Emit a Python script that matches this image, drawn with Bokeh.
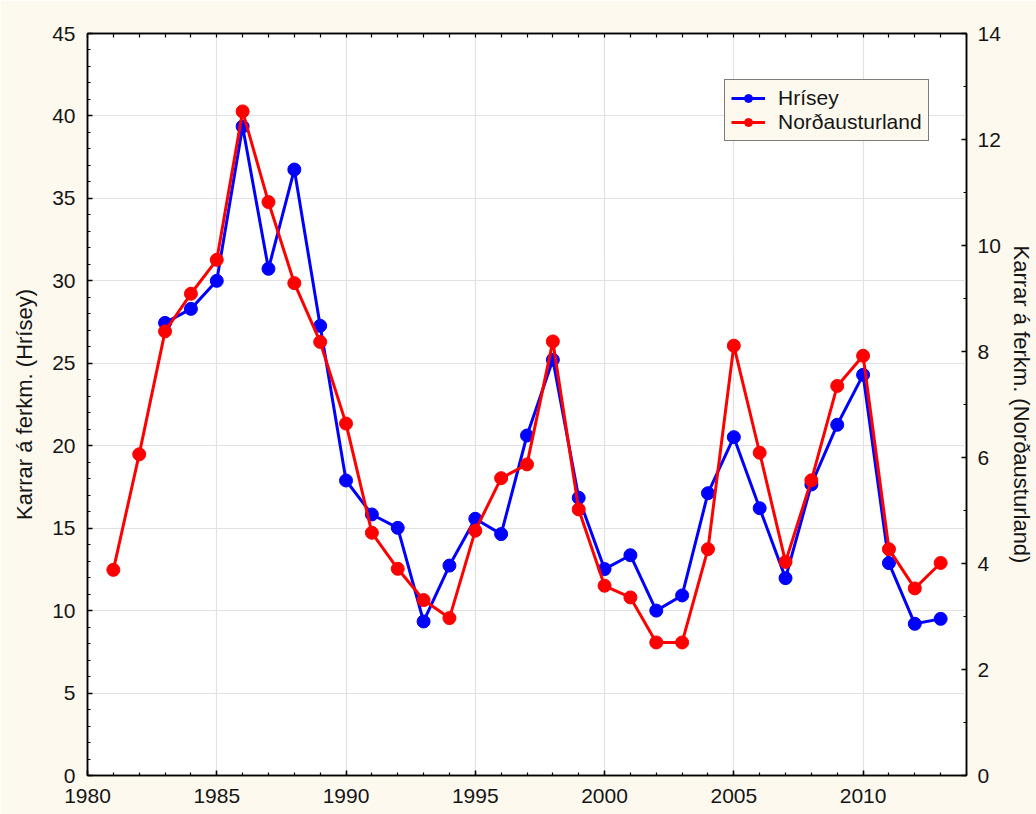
from bokeh.plotting import figure
from bokeh.models import LinearAxis, Range1d, FixedTicker, Legend, LegendItem
from bokeh.embed import file_html
from bokeh.resources import INLINE

# ---- data ----
years_red = list(range(1981, 2014))
nordausturland = [3.88, 6.06, 8.38, 9.09, 9.73, 12.53, 10.82, 9.29, 8.18, 6.64,
                  4.58, 3.90, 3.31, 2.97, 4.62, 5.61, 5.87, 8.19, 5.02, 3.58,
                  3.36, 2.51, 2.51, 4.27, 8.11, 6.09, 4.03, 5.57, 7.35, 7.92,
                  4.27, 3.53, 4.01]
years_blue = list(range(1983, 2014))
hrisey = [27.45, 28.3, 30.0, 39.36, 30.73, 36.75, 27.27, 17.89, 15.83, 15.02,
          9.34, 12.73, 15.57, 14.64, 20.62, 25.21, 16.84, 12.52, 13.36, 10.0,
          10.92, 17.12, 20.52, 16.21, 11.97, 17.65, 21.27, 24.3, 12.88, 9.2, 9.5]
x_ticks = [1980, 1985, 1990, 1995, 2000, 2005, 2010]
x_minor = list(range(1980, 2015))
left_ticks = [0, 5, 10, 15, 20, 25, 30, 35, 40, 45]
left_minor = list(range(0, 46))
right_ticks = [0, 2, 4, 6, 8, 10, 12, 14]
right_minor = list(range(0, 15))

FONT = "Liberation Sans"
CREAM = "#fdf9ef"
BLUE = "#0000ff"
RED = "#ff0000"
TXT = "#151515"

p = figure(width=1036, height=814,
           x_range=Range1d(1980, 2014), y_range=Range1d(0, 45),
           output_backend="svg", toolbar_location=None,
           min_border_left=87, min_border_right=69,
           min_border_top=33, min_border_bottom=39,
           background_fill_color="white", border_fill_color=CREAM,
           outline_line_color="black", outline_line_width=1.5)
p.extra_y_ranges = {"right": Range1d(0, 14)}


def style(ax, ticks, minor):
    ax.ticker = FixedTicker(ticks=ticks, minor_ticks=minor)
    ax.major_tick_in = 5
    ax.major_tick_out = 0
    ax.minor_tick_in = 3
    ax.minor_tick_out = 0
    ax.axis_line_color = "black"
    ax.axis_line_width = 1.5
    ax.major_tick_line_color = "black"
    ax.major_tick_line_width = 1.5
    ax.minor_tick_line_color = "black"
    ax.minor_tick_line_width = 1.2
    ax.major_label_text_font = FONT
    ax.major_label_text_color = TXT
    ax.major_label_text_font_size = "21px"
    ax.axis_label_text_font = FONT
    ax.axis_label_text_font_style = "normal"
    ax.axis_label_text_color = TXT
    ax.axis_label_text_font_size = "22px"


xb = p.xaxis[0]
style(xb, x_ticks, x_minor)
xb.major_label_standoff = 13

yl = p.yaxis[0]
style(yl, left_ticks, left_minor)
yl.major_label_standoff = 12
yl.axis_label = "Karrar á ferkm. (Hrísey)"
yl.axis_label_standoff = 12

yr = LinearAxis(y_range_name="right")
style(yr, right_ticks, right_minor)
yr.major_label_standoff = 11
yr.axis_label = "Karrar á ferkm. (Norðausturland)"
yr.axis_label_standoff = 5
p.add_layout(yr, "right")

# top edge: tick marks only (every year), no labels
xt = LinearAxis()
style(xt, [], x_minor)
xt.minor_tick_in = 4
p.add_layout(xt, "above")

p.xgrid.ticker = FixedTicker(ticks=x_ticks)
p.ygrid.ticker = FixedTicker(ticks=left_ticks)
p.xgrid.grid_line_color = "#e2e2e2"
p.ygrid.grid_line_color = "#e2e2e2"
p.xgrid.grid_line_width = 1.2
p.ygrid.grid_line_width = 1.2

bl = p.line(years_blue, hrisey, line_color=BLUE, line_width=3)
bs = p.scatter(years_blue, hrisey, size=13, fill_color=BLUE, line_color=BLUE)
rl = p.line(years_red, nordausturland, line_color=RED, line_width=3,
            y_range_name="right")
rs = p.scatter(years_red, nordausturland, size=13, fill_color=RED,
               line_color=RED, y_range_name="right")

legend = Legend(items=[LegendItem(label="Hrísey", renderers=[bl, bs]),
                       LegendItem(label="Norðausturland", renderers=[rl, rs])],
                location=(637, 634))
legend.label_text_font = FONT
legend.label_text_font_size = "21px"
legend.label_text_color = TXT
legend.label_height = 22
legend.glyph_height = 20
legend.glyph_width = 34
legend.label_standoff = 13
legend.spacing = 0
legend.padding = 6
legend.margin = 0
legend.border_line_color = "black"
legend.border_line_width = 1.5
legend.background_fill_color = CREAM
legend.background_fill_alpha = 1.0
p.add_layout(legend)

open("out.html", "w").write(file_html(p, INLINE))
